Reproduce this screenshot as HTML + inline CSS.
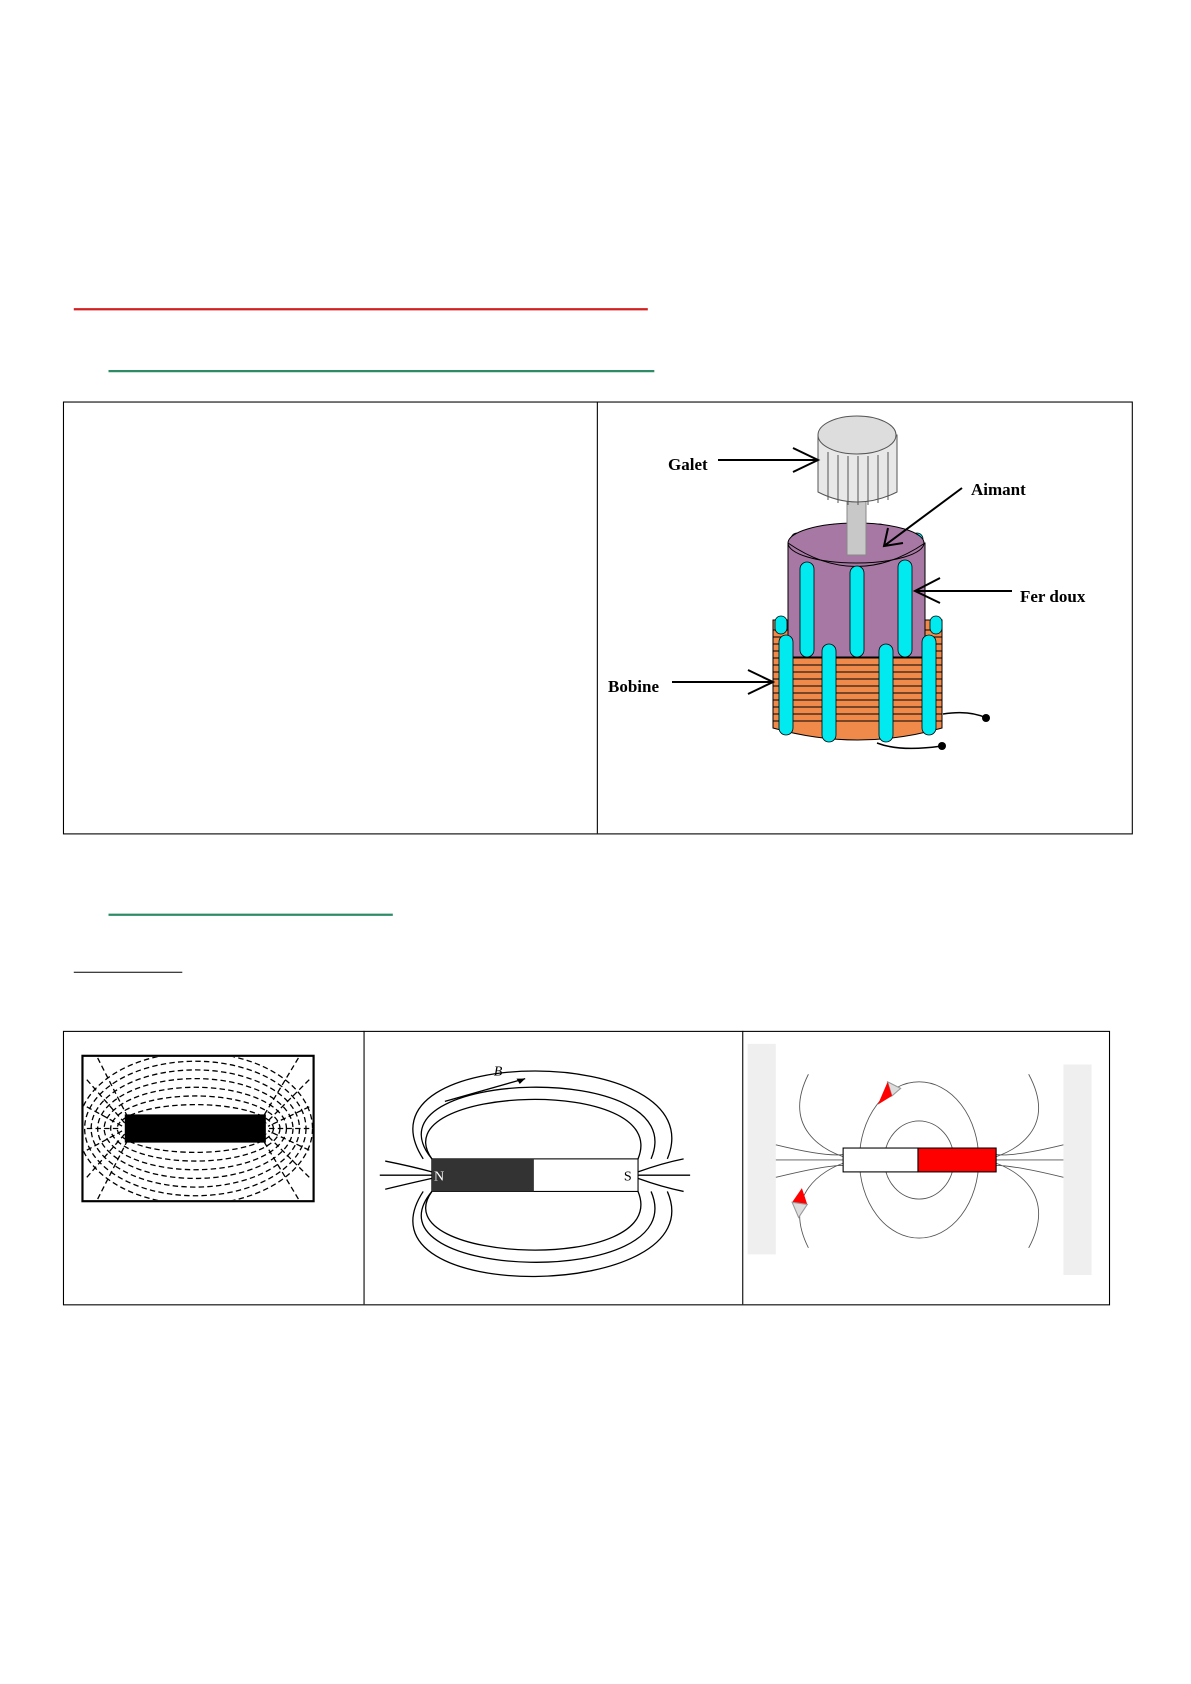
<!DOCTYPE html>
<html><head><meta charset="utf-8"><style>html,body{margin:0;padding:0;background:#fff}svg{display:block}</style></head>
<body>
<svg width="1191" height="1684" viewBox="0 0 1191 1684" xmlns="http://www.w3.org/2000/svg">
<defs><clipPath id="c1"><rect x="77" y="974" width="211" height="132"/></clipPath></defs>
<g transform="scale(1.0851)" fill="none">
  <line x1="68" y1="285" x2="597" y2="285" stroke="#d21f1f" stroke-width="2"/>
  <line x1="100" y1="342" x2="603" y2="342" stroke="#2e8b67" stroke-width="2"/>
  <rect x="58.5" y="370.5" width="985" height="398" stroke="#000" stroke-width="1"/>
  <line x1="550.5" y1="370" x2="550.5" y2="768" stroke="#000"/>
  <line x1="100" y1="843" x2="362" y2="843" stroke="#2e8b67" stroke-width="2"/>
  <line x1="68" y1="896" x2="168" y2="896" stroke="#000" stroke-width="1"/>
  <rect x="58.5" y="950.5" width="964" height="252" stroke="#000"/>
  <line x1="335.5" y1="950" x2="335.5" y2="1202" stroke="#000"/>
  <line x1="684.5" y1="950" x2="684.5" y2="1202" stroke="#000"/>
  <!-- cell1 -->
  <rect x="76" y="973" width="213" height="134" stroke="#000" stroke-width="2" fill="#fff"/>
  <g stroke="#000" stroke-width="1.2" stroke-dasharray="5 3" clip-path="url(#c1)">
    <ellipse cx="180" cy="1040" rx="72" ry="22"/>
    <ellipse cx="180" cy="1040" rx="78" ry="30"/>
    <ellipse cx="180" cy="1040" rx="84" ry="38"/>
    <ellipse cx="180" cy="1040" rx="90" ry="46"/>
    <ellipse cx="180" cy="1040" rx="96" ry="54"/>
    <ellipse cx="180" cy="1040" rx="102" ry="62"/>
    <ellipse cx="180" cy="1040" rx="108" ry="70"/>
    <path d="M80 995 L115 1035 M80 1085 L115 1045 M80 1040 L112 1040 M80 1020 L113 1038 M80 1060 L113 1042 M285 995 L245 1035 M285 1085 L245 1045 M285 1040 L248 1040 M285 1020 L247 1038 M285 1060 L247 1042 M90 975 L118 1030 M90 1105 L118 1050 M275 975 L242 1030 M275 1105 L242 1050"/>
  </g>
  <rect x="115" y="1027" width="130" height="26" fill="#000"/>
  <!-- cell2 -->
  <g stroke="#000" stroke-width="1.2">
    <path d="M398 1068 C350 1000 620 990 588 1068"/>
    <path d="M398 1068 C330 985 640 975 600 1068"/>
    <path d="M390 1068 C320 960 660 960 615 1068"/>
    <path d="M398 1098 C350 1165 620 1175 588 1098"/>
    <path d="M398 1098 C330 1180 640 1190 600 1098"/>
    <path d="M390 1098 C320 1205 660 1200 615 1098"/>
    <path d="M350 1083 L398 1083 M355 1070 Q380 1075 398 1080 M355 1096 Q380 1090 398 1086 M588 1083 L636 1083 M588 1080 Q610 1072 630 1068 M588 1086 Q610 1094 630 1098"/>
    <path d="M410 1015 L484 994"/>
  </g>
  <path d="M484 994 L476 994 L479 999 Z" fill="#000"/>
  <text x="455" y="991" font-family="Liberation Serif" font-style="italic" font-size="13" fill="#000">B</text>
  <rect x="398" y="1068" width="190" height="30" fill="#fff" stroke="#000"/>
  <rect x="398" y="1068" width="94" height="30" fill="#333"/>
  <text x="400" y="1088" font-family="Liberation Serif" font-size="13" fill="#fff">N</text>
  <text x="575" y="1088" font-family="Liberation Serif" font-size="13" fill="#000">S</text>
  <!-- cell3 -->
  <rect x="689" y="962" width="26" height="194" fill="#efefef"/>
  <rect x="980" y="981" width="26" height="194" fill="#efefef"/>
  <g stroke="#555" stroke-width="0.8">
    <line x1="715" y1="1069" x2="980" y2="1069"/>
    <ellipse cx="847" cy="1069" rx="32" ry="36"/>
    <ellipse cx="847" cy="1069" rx="55" ry="72"/>
    <path d="M745 990 C720 1040 760 1060 777 1066 M745 1150 C720 1100 760 1078 777 1072 M948 990 C975 1040 935 1060 918 1066 M948 1150 C975 1100 935 1078 918 1072 M715 1055 Q760 1066 777 1064 M715 1085 Q760 1074 777 1074 M980 1055 Q935 1066 918 1064 M980 1085 Q935 1074 918 1074"/>
  </g>
  <rect x="777" y="1058" width="69" height="22" fill="#fff" stroke="#000"/>
  <rect x="846" y="1058" width="72" height="22" fill="#f00" stroke="#000"/>
  <path d="M818 997 L830 1003 L822 1010 Z" fill="#ddd" stroke="#999"/>
  <path d="M818 997 L822 1010 L809 1018 Z" fill="#f00"/>
  <path d="M739 1095 L744 1110 L730 1108 Z" fill="#f00"/>
  <path d="M730 1108 L744 1110 L736 1122 Z" fill="#ddd" stroke="#999"/>
</g>
<!-- orange coil -->
<path d="M773 620 L942 620 L942 728 Q858 752 773 728 Z" fill="#f08a4b" stroke="#000"/>
<g stroke="#000" stroke-width="1">
  <path d="M773 630H942M773 637H942M773 644H942M773 651H942M773 658H942M773 665H942M773 672H942M773 679H942M773 686H942M773 693H942M773 700H942M773 707H942M773 714H942M773 721H942"/>
</g>
<g fill="#00eaf0" stroke="#000" stroke-width="0.8">
  <rect x="829" y="524" width="12" height="14" rx="6"/>
  <rect x="874" y="524" width="12" height="14" rx="6"/>
  <rect x="791" y="533" width="12" height="14" rx="6"/>
  <rect x="911" y="533" width="12" height="14" rx="6"/>
  <rect x="775" y="616" width="12" height="18" rx="6"/>
  <rect x="930" y="616" width="12" height="18" rx="6"/>
</g>
<path d="M788 543 L788 657 L925 657 L925 543 Z" fill="#a878a4" stroke="#000"/>
<ellipse cx="856" cy="543" rx="68" ry="20" fill="#a878a4" stroke="#000"/>
<path d="M788 543 Q856 590 925 543" stroke="#000" fill="none"/>
<rect x="847" y="492" width="19" height="63" fill="#c8c8c8" stroke="#888"/>
<path d="M818 435 L818 492 Q857 512 897 492 L897 435 Z" fill="#e8e8e8" stroke="#555"/>
<g stroke="#555"><path d="M828 452V500M838 455V503M848 456V505M858 456V505M868 456V505M878 455V503M888 452V500"/></g>
<ellipse cx="857" cy="435" rx="39" ry="19" fill="#ddd" stroke="#555"/>
<g fill="#00eaf0" stroke="#000" stroke-width="0.8">
  <rect x="800" y="562" width="14" height="95" rx="7"/>
  <rect x="850" y="566" width="14" height="91" rx="7"/>
  <rect x="898" y="560" width="14" height="97" rx="7"/>
  <rect x="779" y="635" width="14" height="100" rx="7"/>
  <rect x="822" y="644" width="14" height="98" rx="7"/>
  <rect x="879" y="644" width="14" height="98" rx="7"/>
  <rect x="922" y="635" width="14" height="100" rx="7"/>
</g>
<g stroke="#000" stroke-width="1.5" fill="none">
  <path d="M943 714 Q970 710 986 718"/>
  <path d="M877 743 Q900 752 942 746"/>
</g>
<circle cx="986" cy="718" r="4" fill="#000"/>
<circle cx="942" cy="746" r="4" fill="#000"/>
<!-- labels and arrows on top -->
<g font-family="Liberation Serif" font-weight="bold" font-size="17" fill="#000">
  <text x="668" y="470">Galet</text>
  <text x="971" y="495">Aimant</text>
  <text x="1020" y="602">Fer doux</text>
  <text x="608" y="692">Bobine</text>
</g>
<g stroke="#000" stroke-width="2" fill="none">
  <path d="M718 460 L818 460 M793 448 L818 460 L793 472"/>
  <path d="M672 682 L773 682 M748 670 L773 682 L748 694"/>
  <path d="M1012 591 L915 591 M940 578 L915 591 L940 603"/>
  <path d="M962 488 L884 546 M888 528 L884 546 L903 543"/>
</g>
</svg>
</body></html>
